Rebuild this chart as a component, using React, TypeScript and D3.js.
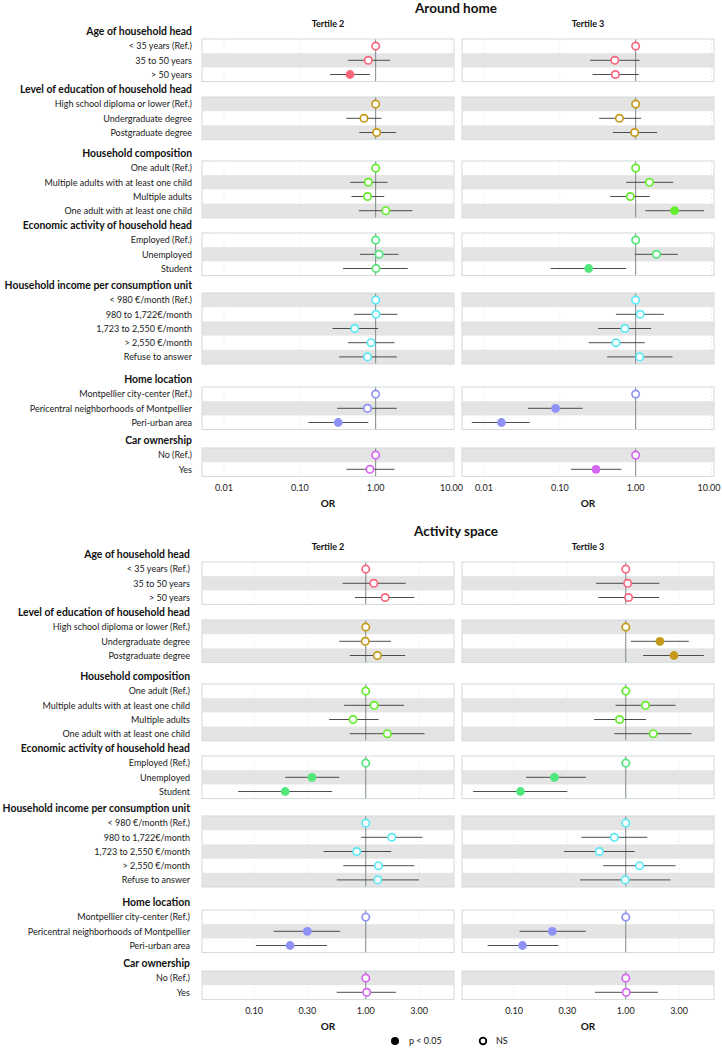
import React from "react";
import * as d3 from "d3";

// groups and row labels (shared by both charts)
const groupNames = [
  "Age of household head",
  "Level of education of household head",
  "Household composition",
  "Economic activity of household head",
  "Household income per consumption unit",
  "Home location",
  "Car ownership",
];
const groupSizes = [3, 3, 4, 3, 5, 3, 2];
const groupColors = ["#F8667E", "#C59A1A", "#63EE2C", "#50E87B", "#5BE9F5", "#8E92F6", "#D465F2"];
const rowLabels = [
  "< 35 years (Ref.)", "35 to 50 years", "> 50 years",
  "High school diploma or lower (Ref.)", "Undergraduate degree", "Postgraduate degree",
  "One adult (Ref.)", "Multiple adults with at least one child", "Multiple adults", "One adult with at least one child",
  "Employed (Ref.)", "Unemployed", "Student",
  "< 980 €/month (Ref.)", "980 to 1,722€/month", "1,723 to 2,550 €/month", "> 2,550 €/month", "Refuse to answer",
  "Montpellier city-center (Ref.)", "Pericentral neighborhoods of Montpellier", "Peri-urban area",
  "No (Ref.)", "Yes",
];

// Around home, tertile 2
const homeT2Or = [1, 0.80, 0.46, 1, 0.70, 1.03, 1, 0.80, 0.78, 1.36, 1, 1.11, 1.01, 1, 1.01, 0.53, 0.87, 0.78, 1, 0.78, 0.32, 1, 0.84];
const homeT2Lo = [null, 0.43, 0.25, null, 0.41, 0.61, null, 0.46, 0.48, 0.60, null, 0.62, 0.37, null, 0.52, 0.27, 0.43, 0.33, null, 0.31, 0.13, null, 0.41];
const homeT2Hi = [null, 1.55, 0.84, null, 1.20, 1.86, null, 1.43, 1.30, 3.05, null, 2.00, 2.65, null, 1.93, 1.08, 1.77, 1.90, null, 1.90, 0.80, null, 1.77];
const homeT2Sig = [0, 0, 1, 0, 0, 0, 0, 0, 0, 0, 0, 0, 0, 0, 0, 0, 0, 0, 0, 0, 1, 0, 0];

// Around home, tertile 3
const homeT3Or = [1, 0.53, 0.54, 1, 0.61, 0.97, 1, 1.52, 0.85, 3.26, 1, 1.88, 0.24, 1, 1.15, 0.72, 0.55, 1.13, 1, 0.088, 0.017, 1, 0.30];
const homeT3Lo = [null, 0.25, 0.27, null, 0.33, 0.50, null, 0.75, 0.46, 1.34, null, 0.97, 0.076, null, 0.55, 0.32, 0.24, 0.42, null, 0.038, 0.0069, null, 0.14];
const homeT3Hi = [null, 1.13, 1.10, null, 1.18, 1.92, null, 3.13, 1.53, 7.95, null, 3.60, 0.75, null, 2.35, 1.60, 1.32, 3.06, null, 0.20, 0.040, null, 0.65];
const homeT3Sig = [0, 0, 0, 0, 0, 0, 0, 0, 0, 1, 0, 0, 1, 0, 0, 0, 0, 0, 0, 1, 1, 0, 1];

// Activity space, tertile 2
const actT2Or = [1, 1.18, 1.49, 1, 0.99, 1.27, 1, 1.19, 0.77, 1.56, 1, 0.33, 0.19, 1, 1.71, 0.83, 1.30, 1.28, 1, 0.30, 0.21, 1, 1.02];
const actT2Lo = [null, 0.62, 0.80, null, 0.58, 0.72, null, 0.64, 0.47, 0.72, null, 0.19, 0.072, null, 0.91, 0.42, 0.63, 0.55, null, 0.15, 0.104, null, 0.55];
const actT2Hi = [null, 2.28, 2.73, null, 1.68, 2.25, null, 2.20, 1.30, 3.36, null, 0.58, 0.50, null, 3.22, 1.69, 2.73, 3.00, null, 0.59, 0.45, null, 1.87];
const actT2Sig = [0, 0, 0, 0, 0, 0, 0, 0, 0, 0, 0, 1, 1, 0, 0, 0, 0, 0, 0, 1, 1, 0, 0];

// Activity space, tertile 3
const actT3Or = [1, 1.04, 1.06, 1, 2.02, 2.70, 1, 1.50, 0.88, 1.76, 1, 0.23, 0.114, 1, 0.79, 0.58, 1.33, 0.99, 1, 0.22, 0.119, 1, 1.01];
const actT3Lo = [null, 0.54, 0.57, null, 1.11, 1.43, null, 0.81, 0.52, 0.79, null, 0.128, 0.043, null, 0.40, 0.28, 0.63, 0.39, null, 0.112, 0.058, null, 0.53];
const actT3Hi = [null, 2.00, 1.99, null, 3.67, 5.00, null, 2.79, 1.52, 3.88, null, 0.44, 0.30, null, 1.56, 1.20, 2.79, 2.52, null, 0.44, 0.25, null, 1.94];
const actT3Sig = [0, 0, 0, 0, 1, 1, 0, 0, 0, 0, 0, 1, 1, 0, 0, 0, 0, 0, 0, 1, 1, 0, 0];

const homeTicks = [0.01, 0.1, 1, 10];
const homeTickLabels = ["0.01", "0.10", "1.00", "10.00"];
const actTicks = [0.1, 0.3, 1, 3];
const actTickLabels = ["0.10", "0.30", "1.00", "3.00"];
const tertiles = ["Tertile 2", "Tertile 3"];

// layout
const W = 722, H = 1048;
const FONT = "Lato, 'Open Sans', sans-serif";
const panelX: [number, number][] = [[202, 454], [462, 714]];
const groupTops = [39, 97, 161, 233, 293, 387, 448];
const rowH = 14.2;

const rowGroup: number[] = [];
const rowInGroup: number[] = [];
groupSizes.forEach((n, g) => d3.range(n).forEach(j => { rowGroup.push(g); rowInGroup.push(j); }));
const rowY = (i: number) => groupTops[rowGroup[i]] + rowInGroup[i] * rowH;

type Series = { or: number[]; lo: (number | null)[]; hi: (number | null)[]; sig: number[] };

function Panel({ k, domain, ticks, tickLabels, s }: any) {
  const [x0, x1] = panelX[k];
  const x = d3.scaleLog().domain(domain).range([x0, x1]);
  const data: Series = s;
  return (
    <g>
      {groupSizes.map((n, g) => {
        const top = groupTops[g];
        const bot = top + n * rowH;
        return (
          <g key={g}>
            <rect x={x0} y={top} width={x1 - x0} height={bot - top} fill="#fff" />
            {ticks.filter((t: number) => t !== 1).map((t: number) => (
              <line key={t} x1={x(t)} x2={x(t)} y1={top} y2={bot} stroke="#e4e4e4" strokeWidth={0.6} strokeDasharray="2,2" />
            ))}
          </g>
        );
      })}
      {rowLabels.map((_, i) => i % 2 === 1 ? (
        <rect key={i} x={x0} y={rowY(i)} width={x1 - x0} height={rowH} fill="#E4E4E4" />
      ) : null)}
      {groupSizes.map((n, g) => (
        <g key={g}>
          <line x1={x(1)} x2={x(1)} y1={groupTops[g]} y2={groupTops[g] + n * rowH} stroke="#7d8787" strokeWidth={1} />
          <rect x={x0} y={groupTops[g]} width={x1 - x0} height={n * rowH} fill="none" stroke="#D3DADA" strokeWidth={1} />
        </g>
      ))}
      {rowLabels.map((_, i) => {
        const cy = rowY(i) + rowH / 2;
        const lo = data.lo[i], hi = data.hi[i];
        const col = groupColors[rowGroup[i]];
        return (
          <g key={i}>
            {lo != null && hi != null && (
              <line x1={x(lo)} x2={x(hi)} y1={cy} y2={cy} stroke="#3a3a3a" strokeWidth={0.9} />
            )}
            {data.sig[i] ? (
              <circle cx={x(data.or[i])} cy={cy} r={4.4} fill={col} />
            ) : (
              <circle cx={x(data.or[i])} cy={cy} r={3.7} fill="#fff" stroke={col} strokeWidth={1.7} />
            )}
          </g>
        );
      })}
      {ticks.map((t: number, j: number) => (
        <text key={t} x={Math.min(x(t), 709)} y={491} textAnchor="middle" fontSize={9} fill="#222">{tickLabels[j]}</text>
      ))}
      <text x={(x0 + x1) / 2} y={507} textAnchor="middle" fontSize={10} fontWeight="bold" fill="#111">OR</text>
      <text x={(x0 + x1) / 2} y={27} textAnchor="middle" fontSize={9} fontWeight="bold" fill="#111">{tertiles[k]}</text>
    </g>
  );
}

function ForestChart({ dy, title, domain, ticks, tickLabels, series, labelX }: any) {
  return (
    <g transform={`translate(0,${dy})`} fontFamily={FONT}>
      <text x={456} y={13} textAnchor="middle" fontSize={13.5} fontWeight="bold" fill="#111">{title}</text>
      {groupNames.map((name, g) => (
        <text key={name} x={labelX} y={groupTops[g] - 4} textAnchor="end" fontSize={10.4} fontWeight="bold" fill="#111">{name}</text>
      ))}
      {rowLabels.map((lab, i) => (
        <text key={i} x={labelX} y={rowY(i) + rowH / 2 + 3.3} textAnchor="end" fontSize={9} fill="#1a1a1a">{lab}</text>
      ))}
      {panelX.map((_, k) => (
        <Panel key={k} k={k} domain={domain} ticks={ticks} tickLabels={tickLabels} s={series[k]} />
      ))}
    </g>
  );
}

export default function App() {
  const homeSeries: Series[] = [
    { or: homeT2Or, lo: homeT2Lo, hi: homeT2Hi, sig: homeT2Sig },
    { or: homeT3Or, lo: homeT3Lo, hi: homeT3Hi, sig: homeT3Sig },
  ];
  const actSeries: Series[] = [
    { or: actT2Or, lo: actT2Lo, hi: actT2Hi, sig: actT2Sig },
    { or: actT3Or, lo: actT3Lo, hi: actT3Hi, sig: actT3Sig },
  ];
  return (
    <svg width={W} height={H} style={{ position: "absolute", left: 0, top: 0, background: "#fff" }}>
      <ForestChart dy={0} title="Around home" domain={[Math.pow(10, -2.29), Math.pow(10, 1.033)]}
        ticks={homeTicks} tickLabels={homeTickLabels} series={homeSeries} labelX={192} />
      <ForestChart dy={523} title="Activity space" domain={[Math.pow(10, -1.466), Math.pow(10, 0.79)]}
        ticks={actTicks} tickLabels={actTickLabels} series={actSeries} labelX={190} />
      <g fontFamily={FONT} fontSize={9} fill="#111">
        <circle cx={395} cy={1041} r={4} fill="#000" />
        <text x={409} y={1044}>p &lt; 0.05</text>
        <circle cx={483} cy={1041} r={3.3} fill="#fff" stroke="#000" strokeWidth={1.8} />
        <text x={496} y={1044}>NS</text>
      </g>
    </svg>
  );
}
